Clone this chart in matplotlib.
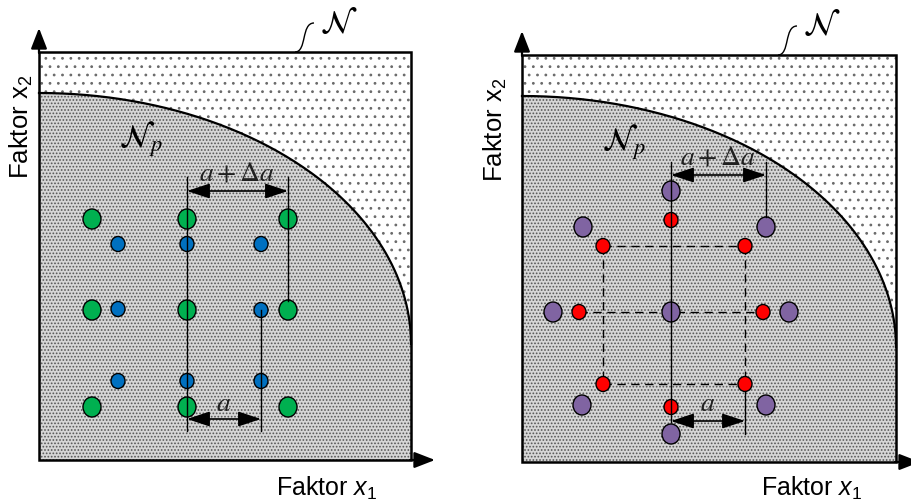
import numpy as np
import matplotlib.pyplot as plt
from matplotlib.patches import Ellipse, Polygon, Rectangle, PathPatch
from matplotlib.path import Path

plt.rcParams['font.family'] = ['Liberation Sans', 'DejaVu Sans']
plt.rcParams['mathtext.fontset'] = 'custom'
plt.rcParams['mathtext.rm'] = 'Liberation Sans'
plt.rcParams['mathtext.it'] = 'Liberation Sans:italic'
plt.rcParams['hatch.linewidth'] = 0.8

# panel frames in pixels: left, top, width, height
left_box = (39, 53, 372, 408)
right_box = (522, 56, 374, 407)
curve_drop = 41      # where the N_p boundary meets the left edge (below top)
curve_center = 292   # depth of the ellipse centre below the top

# left panel: two 3x3 factorial designs (step a+da and step a)
green_x = [92, 187, 288, 92, 187, 288, 92, 187, 288]
green_y = [220, 220, 220, 311, 311, 311, 408, 408, 408]
blue_x = [118, 187, 261, 118, 187, 261, 118, 187, 261]
blue_y = [245, 245, 245, 310, 311, 311, 382, 382, 382]

# right panel: two central composite designs
purple_x = [671, 583, 766, 553, 671, 789, 582, 766, 671]
purple_y = [192, 228, 228, 313, 313, 313, 406, 406, 435]
red_x = [671, 603, 745, 579, 671, 763, 603, 745, 671]
red_y = [221, 247, 247, 313, 313, 313, 385, 385, 408]

fig = plt.figure(figsize=(9.12, 5.02), dpi=100)
ax = fig.add_axes([0, 0, 1, 1])
ax.set_xlim(0, 912)
ax.set_ylim(502, 0)
ax.axis('off')


def draw_panel(box, ylab_x):
    x0, y0, w, h = box
    # outer region N: sparse dots on white
    ax.add_patch(Rectangle((x0, y0), w, h, facecolor='white', edgecolor='#6a6a6a',
                           hatch='..', lw=0, zorder=1))
    # inner region N_p: dense dots (grey)
    t = np.linspace(0, np.pi / 2, 200)
    ry = curve_center - curve_drop
    ex = x0 + w * np.sin(t)
    ey = y0 + curve_center - ry * np.cos(t)
    pts = [(x0, y0 + h)] + list(zip(ex, ey)) + [(x0 + w, y0 + h)]
    ax.add_patch(Polygon(pts, closed=True, facecolor='#d6d6d6', edgecolor='#555555',
                         hatch='.....', lw=0, zorder=2))
    ax.plot(ex, ey, color='k', lw=1.6, zorder=3)
    ax.add_patch(Rectangle((x0, y0), w, h, facecolor='none', edgecolor='k',
                           lw=1.8, zorder=6))
    # axis arrows
    ax.annotate('', xy=(x0, y0 - 24), xytext=(x0, y0 + 1),
                arrowprops=dict(arrowstyle='-|>,head_length=0.9,head_width=0.35',
                                color='k', lw=1.6, mutation_scale=14,
                                shrinkA=0, shrinkB=0), zorder=6)
    ax.annotate('', xy=(x0 + w + 24, y0 + h), xytext=(x0 + w - 1, y0 + h),
                arrowprops=dict(arrowstyle='-|>,head_length=0.9,head_width=0.35',
                                color='k', lw=1.6, mutation_scale=14,
                                shrinkA=0, shrinkB=0), zorder=6, annotation_clip=False)
    # N label with integral-like leader
    lx = x0 + 256
    verts = [(lx, y0), (lx + 12, y0), (lx + 6, y0 - 29), (lx + 19, y0 - 29)]
    ax.add_patch(PathPatch(Path(verts, [Path.MOVETO, Path.CURVE4, Path.CURVE4, Path.CURVE4]),
                           facecolor='none', edgecolor='k', lw=1.0, zorder=6))
    ax.text(lx + 44, y0 - 29, r'$\mathcal{N}$', math_fontfamily='stix', fontsize=24,
            ha='center', va='center', zorder=7)
    ax.text(x0 + 102, y0 + 86, r'$\mathcal{N}_p$', math_fontfamily='stix', fontsize=23,
            ha='center', va='center', zorder=7)
    # axis labels
    ax.text(ylab_x, y0 + 74, r'Faktor $\mathrm{x}_2$', rotation=90, fontsize=18.5,
            ha='center', va='center')
    ax.text(x0 + w - 84, 488, r'Faktor $x_{\mathit{1}}$', fontsize=18,
            ha='center', va='center')


def dim_arrow(xa, xb, y, label, ty):
    ax.annotate('', xy=(xb, y), xytext=(xa, y),
                arrowprops=dict(arrowstyle='<|-|>,head_length=1.0,head_width=0.33',
                                color='k', lw=1.2, mutation_scale=14,
                                shrinkA=0, shrinkB=0), zorder=8)
    ax.text((xa + xb) / 2, ty, label, math_fontfamily='stix', fontsize=20,
            ha='center', va='center', color='#202020', zorder=8)


def dots(xs, ys, color, w, h):
    for x, y in zip(xs, ys):
        ax.add_patch(Ellipse((x, y), w, h, facecolor=color, edgecolor='k', lw=1.0, zorder=5))


def seg(x1, y1, x2, y2, ls='-', z=6):
    ax.plot([x1, x2], [y1, y2], color='k', lw=1.0, ls=ls, zorder=z)


draw_panel(left_box, 21)
draw_panel(right_box, 495)

# left panel
dots(blue_x, blue_y, '#0070c0', 14, 15)
dots(green_x, green_y, '#00b050', 18, 20)
seg(187, 178, 187, 432)
seg(288, 178, 288, 302)
seg(261, 311, 261, 432)
dim_arrow(187, 288, 192, r'$a+\Delta a$', 174)
dim_arrow(187, 261, 420, r'$a$', 404)

# right panel
dash = (0, (6, 4))
seg(603, 247, 745, 247, dash, 4)
seg(603, 385, 745, 385, dash, 4)
seg(603, 247, 603, 385, dash, 4)
seg(745, 247, 745, 385, dash, 4)
seg(579, 313, 763, 313, dash, 4)
dots(red_x, red_y, '#ff0000', 14, 15)
dots(purple_x, purple_y, '#8064a2', 18, 20)
seg(671, 163, 671, 423)
seg(766, 163, 766, 218)
seg(745, 392, 745, 435)
dim_arrow(671, 766, 176, r'$a+\Delta a$', 158)
dim_arrow(671, 745, 422, r'$a$', 404)

fig.savefig('out.png', dpi=100)
